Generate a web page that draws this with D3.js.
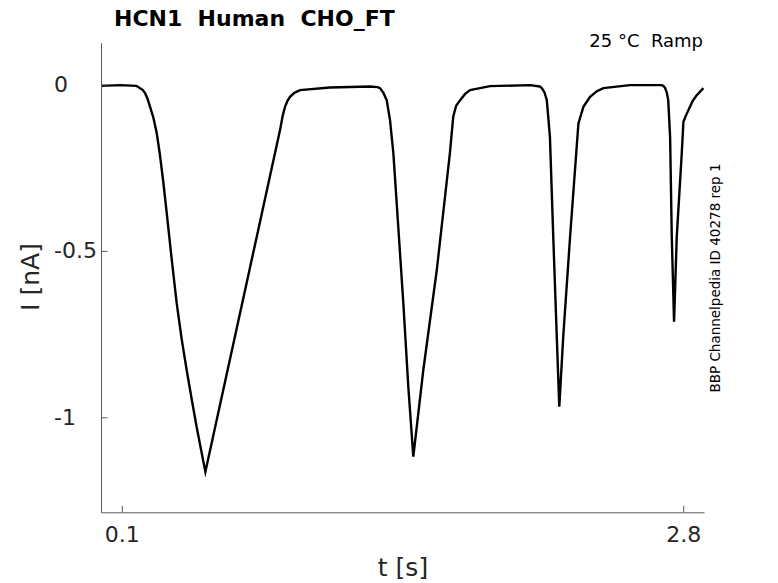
<!DOCTYPE html>
<html>
<head>
<meta charset="utf-8">
<script src="https://cdn.jsdelivr.net/npm/d3@7"></script>
<style>
  html, body { margin: 0; padding: 0; background: #fff; }
  svg { display: block; font-family: "DejaVu Sans", sans-serif; }
  text { white-space: pre; }
</style>
</head>
<body>
<svg id="chart" width="778" height="583"></svg>
<script>
// ---- data ----
const titleText = "HCN1  Human  CHO_FT";
const conditionText = "25 °C  Ramp";
const sourceText = "BBP Channelpedia ID 40278 rep 1";
const xLabel = "t [s]";
const yLabel = "I [nA]";
const xTicks = [0.1, 2.8];
const yTicks = [0, -0.5, -1];
const xDomain = [0, 2.9];
const yDomain = [-1.2855, 0.1256];

// time (s)
const timeS = [
  0.000, 0.091, 0.170, 0.188, 0.200, 0.212, 0.224, 0.236, 0.252, 0.268, 0.282, 0.299, 0.316, 0.340, 0.364, 0.388, 0.412, 0.436, 0.460, 0.502,
  0.861, 0.873, 0.885, 0.897, 0.909, 0.930, 0.957, 1.101, 1.294,
  1.330, 1.342, 1.358, 1.374, 1.390, 1.406, 1.422, 1.454, 1.478, 1.502,
  1.550, 1.615, 1.678, 1.694, 1.708, 1.727, 1.750, 1.775, 1.871, 2.063,
  2.110, 2.120, 2.133, 2.144, 2.159, 2.175, 2.192, 2.204,
  2.223, 2.256, 2.296, 2.320, 2.352, 2.385, 2.416, 2.544, 2.697,
  2.706, 2.713, 2.721, 2.728, 2.737, 2.745, 2.756,
  2.769, 2.793, 2.801, 2.812, 2.825, 2.845, 2.865, 2.897
];
// current (nA)
const currentNA = [
  -0.004, -0.002, -0.004, -0.011, -0.016, -0.026, -0.043, -0.067, -0.100, -0.146, -0.205, -0.290, -0.386, -0.525, -0.657, -0.765, -0.858, -0.945, -1.029, -1.164,
  -0.137, -0.096, -0.067, -0.049, -0.037, -0.025, -0.017, -0.009, -0.006,
  -0.008, -0.011, -0.025, -0.047, -0.107, -0.206, -0.356, -0.657, -0.909, -1.118,
  -0.858, -0.557, -0.206, -0.097, -0.064, -0.047, -0.029, -0.017, -0.005, -0.002,
  -0.006, -0.011, -0.024, -0.047, -0.157, -0.457, -0.758, -0.968,
  -0.758, -0.457, -0.117, -0.067, -0.037, -0.020, -0.011, -0.002, -0.002,
  -0.005, -0.011, -0.024, -0.047, -0.157, -0.457, -0.713,
  -0.457, -0.207, -0.112, -0.095, -0.077, -0.050, -0.032, -0.011
];

// ---- layout ----
const svg = d3.select("#chart");
const plot = { left: 101, right: 704, top: 42.7, bottom: 512.3 };
const axisColor = "#5a5a5a";
const textColor = "#262626";
const fmt = d => String(d);

const x = d3.scaleLinear().domain(xDomain).range([plot.left, plot.right]);
const y = d3.scaleLinear().domain(yDomain).range([plot.bottom, plot.top]);

// trace
const pts = timeS.map((t, i) => [t, currentNA[i]]);
const line = d3.line().x(d => x(d[0])).y(d => y(d[1])).curve(d3.curveLinear);
svg.append("path")
  .datum(pts)
  .attr("d", line)
  .attr("fill", "none")
  .attr("stroke", "#000")
  .attr("stroke-width", 2.4)
  .attr("stroke-linejoin", "miter")
  .attr("stroke-miterlimit", 10);

// x axis
const xAxis = d3.axisBottom(x).tickValues(xTicks).tickFormat(fmt).tickSizeInner(-6.5).tickSizeOuter(0).tickPadding(14);
const gx = svg.append("g").attr("transform", `translate(0,${plot.bottom})`).call(xAxis);
gx.select(".domain").attr("stroke", axisColor);
gx.selectAll(".tick line").attr("stroke", axisColor);
gx.selectAll(".tick text").attr("fill", textColor).attr("font-size", 22).attr("font-family", "DejaVu Sans");

// y axis
const yAxis = d3.axisLeft(y).tickValues(yTicks).tickFormat(fmt).tickSizeInner(-6.5).tickSizeOuter(0).tickPadding(0);
const gy = svg.append("g").attr("transform", `translate(${plot.left},0)`).call(yAxis);
gy.select(".domain").attr("stroke", axisColor);
gy.selectAll(".tick line").attr("stroke", axisColor);
gy.selectAll(".tick text")
  .attr("fill", textColor).attr("font-size", 22).attr("font-family", "DejaVu Sans")
  .attr("text-anchor", "start").attr("x", 54 - plot.left);

// labels
svg.append("text").attr("x", 403).attr("y", 576).attr("text-anchor", "middle")
  .attr("font-size", 25).attr("fill", textColor).text(xLabel);
svg.append("text").attr("transform", "translate(39,277) rotate(-90)").attr("text-anchor", "middle")
  .attr("font-size", 25).attr("fill", textColor).text(yLabel);

// title
svg.append("text").attr("x", 114).attr("y", 26).attr("font-size", 22).attr("font-weight", "bold")
  .attr("fill", "#000").text(titleText);

// condition
svg.append("text").attr("x", 703).attr("y", 47).attr("text-anchor", "end")
  .attr("font-size", 18).attr("fill", "#000").text(conditionText);

// source (rotated)
svg.append("text").attr("transform", "translate(720,278) rotate(-90)").attr("text-anchor", "middle")
  .attr("font-size", 13.5).attr("fill", "#000").text(sourceText);
</script>
</body>
</html>
